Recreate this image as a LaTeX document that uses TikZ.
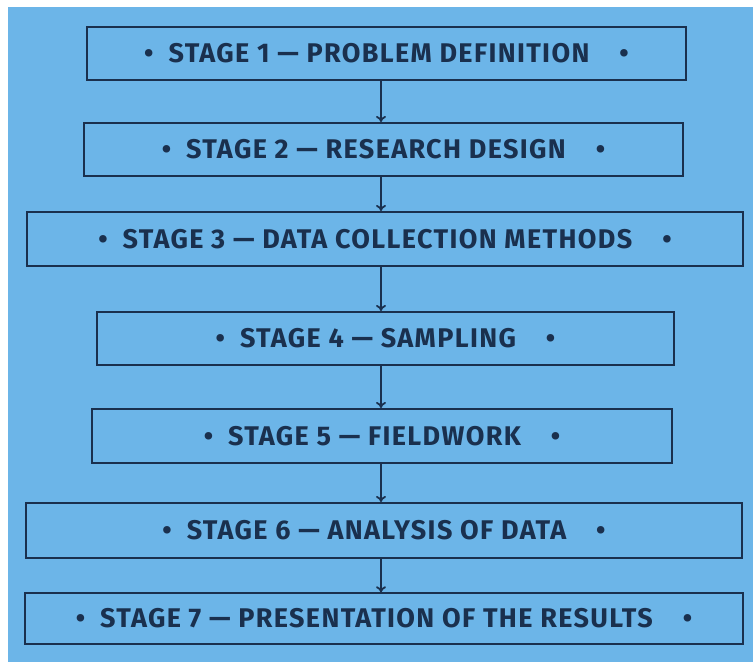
\documentclass[tikz,border=0pt]{standalone}
\usepackage{fontspec}
\setsansfont{Fira Sans}[LetterSpace=5]
\usetikzlibrary{arrows.meta}
\definecolor{bgblue}{RGB}{108,181,232}
\definecolor{ink}{RGB}{26,48,78}
\newcommand{\stagetext}[1]{\textbullet\hspace{15pt}#1\hspace{30pt}\textbullet}
\begin{document}
\begin{tikzpicture}[x=1pt,y=-1pt,
  stagebox/.style={draw=ink, line width=2pt, fill=bgblue, inner sep=0pt,
    text=ink, font=\sffamily\bfseries\fontsize{27}{29}\selectfont},
  flow/.style={draw=ink, line width=1.8pt, -{To[length=6pt,width=10pt]}}]
  % page and blue panel
  \fill[white] (0,0) rectangle (753,666);
  \fill[bgblue] (8,7) rectangle (753,662);
  \coordinate (axis) at (381,0);
  % stages
  \node[stagebox, minimum width=599pt, minimum height=53pt] (s1) at (386.5,53.5)
    {\stagetext{STAGE 1 — PROBLEM DEFINITION}};
  \node[stagebox, minimum width=599pt, minimum height=53pt] (s2) at (383.5,149.5)
    {\stagetext{STAGE 2 — RESEARCH DESIGN}};
  \node[stagebox, minimum width=716pt, minimum height=54pt] (s3) at (385,239)
    {\stagetext{STAGE 3 — DATA COLLECTION METHODS}};
  \node[stagebox, minimum width=577pt, minimum height=53pt] (s4) at (385.5,338.5)
    {\stagetext{STAGE 4 — SAMPLING}};
  \node[stagebox, minimum width=580pt, minimum height=54pt] (s5) at (382,436)
    {\stagetext{STAGE 5 — FIELDWORK}};
  \node[stagebox, minimum width=716pt, minimum height=55pt] (s6) at (384,530.5)
    {\stagetext{STAGE 6 — ANALYSIS OF DATA}};
  \node[stagebox, line width=1.4pt, minimum width=718pt, minimum height=51pt] (s7) at (384,618.5)
    {\stagetext{STAGE 7 — PRESENTATION OF THE RESULTS}};
  % connectors
  \foreach \a/\b in {s1/s2,s2/s3,s3/s4,s4/s5,s5/s6,s6/s7}
    \draw[flow] (\a.south -| axis) -- (\b.north -| axis);
\end{tikzpicture}
\end{document}
